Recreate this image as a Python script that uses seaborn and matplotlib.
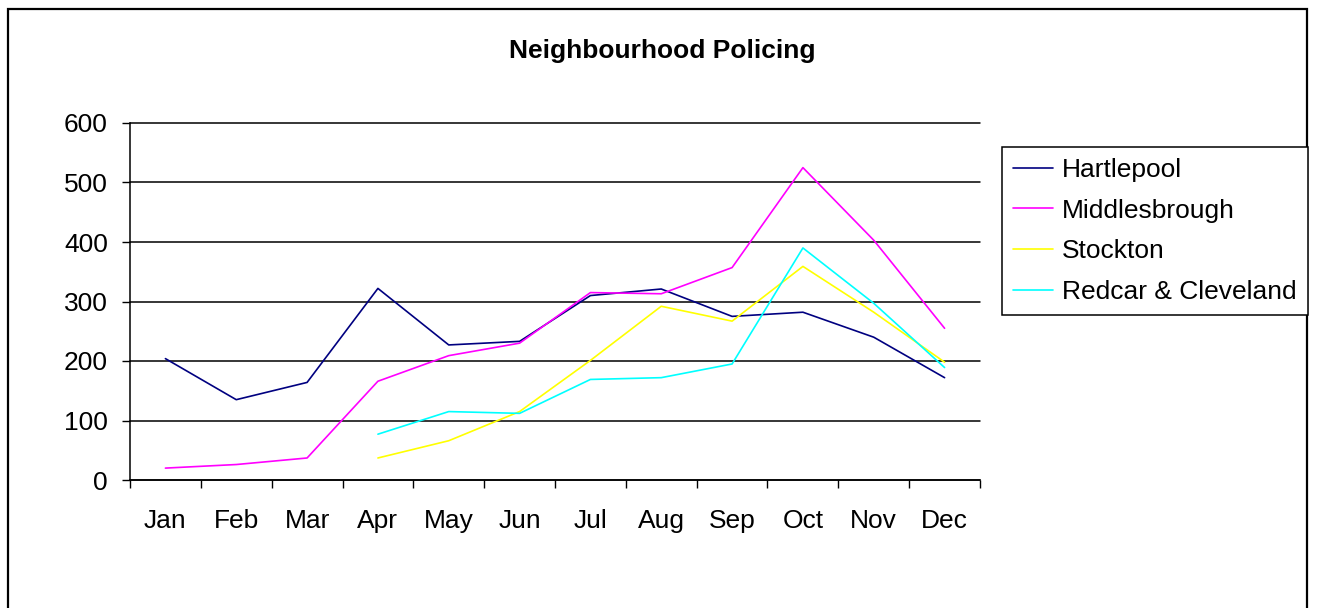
import seaborn as sns
import matplotlib.pyplot as plt
import matplotlib.patches as mpatches
import numpy as np
import pandas as pd

months = ['Jan', 'Feb', 'Mar', 'Apr', 'May', 'Jun', 'Jul', 'Aug', 'Sep', 'Oct', 'Nov', 'Dec']
hartlepool = [204, 135, 164, 322, 227, 233, 310, 321, 275, 282, 240, 172]
middlesbrough = [20, 26, 37, 166, 209, 230, 315, 313, 357, 525, 403, 255]
stockton = [np.nan, np.nan, np.nan, 37, 66, 115, 201, 292, 267, 359, 282, 198]
redcar = [np.nan, np.nan, np.nan, 77, 115, 112, 169, 172, 195, 390, 297, 189]
areas = ['Hartlepool', 'Middlesbrough', 'Stockton', 'Redcar & Cleveland']
colours = ['#000080', '#FF00FF', '#FFFF00', '#00FFFF']

# long form table for seaborn
rows = []
for name, vals in zip(areas, [hartlepool, middlesbrough, stockton, redcar]):
    for i, v in enumerate(vals):
        rows.append({'month': i, 'area': name, 'value': v})
df = pd.DataFrame(rows).dropna()

sns.set_style('white')
plt.rcParams['font.family'] = ['Liberation Sans', 'DejaVu Sans']
plt.rcParams['text.color'] = 'black'
plt.rcParams['xtick.color'] = 'black'
plt.rcParams['ytick.color'] = 'black'
plt.rcParams['xtick.labelcolor'] = 'black'
plt.rcParams['ytick.labelcolor'] = 'black'

fig = plt.figure(figsize=(13.17, 6.08), dpi=100)
ax = fig.add_axes([130 / 1317, 1 - 480 / 608, 850 / 1317, 357 / 608])

sns.lineplot(data=df, x='month', y='value', hue='area', hue_order=areas,
             palette=colours, linewidth=1.2, sort=False, errorbar=None, ax=ax)

ax.set_xlim(-0.5, 11.5)
ax.set_ylim(0, 600)
ax.set_yticks(range(0, 601, 100))
ax.set_xticks(range(len(months)))
ax.set_xticklabels(months)
ax.set_xticks(np.arange(-0.5, 12, 1), minor=True)
ax.tick_params(axis='x', which='major', length=0, pad=21, labelsize=19)
ax.tick_params(axis='x', which='minor', length=6, width=1, color='black', direction='out', bottom=True)
ax.tick_params(axis='y', length=6, width=1, color='black', direction='out', left=True, pad=10, labelsize=19)
ax.set_xlabel('')
ax.set_ylabel('')
ax.grid(axis='y', color='black', linewidth=1.1)
for gl in ax.get_ygridlines():
    gl.set_clip_on(False)
ax.set_axisbelow(True)
for side in ['top', 'right']:
    ax.spines[side].set_visible(False)
for side in ['left', 'bottom']:
    ax.spines[side].set_color('black')
    ax.spines[side].set_linewidth(1.1)

ax.legend_.remove()
handles = [plt.Line2D([], [], color=c, linewidth=1.2) for c in colours]
leg = fig.legend(handles, areas, loc='upper left', bbox_to_anchor=(1002 / 1317, 1 - 147 / 608),
                 bbox_transform=fig.transFigure, borderaxespad=0, fontsize=19,
                 handlelength=1.5, handletextpad=0.35, labelspacing=0.63, borderpad=0.42,
                 frameon=True, fancybox=False, edgecolor='black', framealpha=1)
leg.get_frame().set_linewidth(1.1)

fig.text(662 / 1317, 1 - 51 / 608, 'Neighbourhood Policing', ha='center', va='center',
         fontsize=19, fontweight='bold')

fig.patches.append(mpatches.Rectangle((8 / 1317, -0.05), 1299 / 1317, 1.05 - 9 / 608,
                                      transform=fig.transFigure, fill=False,
                                      edgecolor='black', linewidth=1.6))

fig.savefig('out.png', dpi=100)
